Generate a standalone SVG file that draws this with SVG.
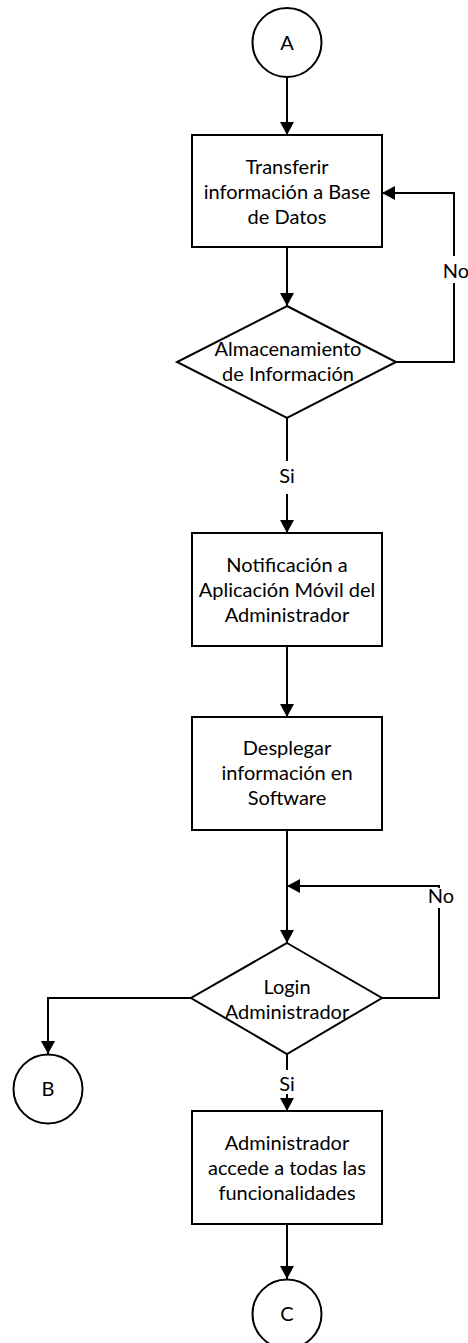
<svg xmlns="http://www.w3.org/2000/svg" width="468" height="1343" viewBox="0 0 468 1343">
  <style>
    .shape { fill: #ffffff; stroke: #000000; stroke-width: 2; }
    .line { fill: none; stroke: #000000; stroke-width: 2; }
    .txt { font-family: Lato, "Liberation Sans", sans-serif; font-size: 20px; fill: #000000; text-anchor: middle; }
    .lblbg { fill: #ffffff; stroke: none; }
  </style>
  <defs>
    <marker id="arrow" markerUnits="userSpaceOnUse" markerWidth="13" markerHeight="14" viewBox="0 0 13 14" refX="13" refY="7" orient="auto">
      <path d="M0,0 L13,7 L0,14 z" fill="#000000"/>
    </marker>
  </defs>
  <rect width="468" height="1343" fill="#ffffff"/>

  <!-- connectors -->
  <g id="connectors">
    <path class="line" d="M287,77 L287,135" marker-end="url(#arrow)"/>
    <path class="line" d="M287,247 L287,306" marker-end="url(#arrow)"/>
    <path class="line" d="M396,362 L454,362 L454,193 L382,193" marker-end="url(#arrow)"/>
    <path class="line" d="M287,418 L287,533" marker-end="url(#arrow)"/>
    <path class="line" d="M287,646 L287,717" marker-end="url(#arrow)"/>
    <path class="line" d="M287,830 L287,943" marker-end="url(#arrow)"/>
    <path class="line" d="M382,998 L439,998 L439,886 L287,886" marker-end="url(#arrow)"/>
    <path class="line" d="M191,998 L48,998 L48,1054" marker-end="url(#arrow)"/>
    <path class="line" d="M287,1054 L287,1111" marker-end="url(#arrow)"/>
    <path class="line" d="M287,1224 L287,1279" marker-end="url(#arrow)"/>
    <!-- branch labels -->
    <rect class="lblbg" x="442" y="256" width="26" height="27"/>
    <text class="txt" x="456" y="278">No</text>
    <rect class="lblbg" x="277" y="461" width="20" height="33"/>
    <text class="txt" x="287" y="483">Si</text>
    <rect class="lblbg" x="427" y="888" width="28" height="20"/>
    <text class="txt" x="441" y="903">No</text>
    <rect class="lblbg" x="277" y="1070" width="20" height="24"/>
    <text class="txt" x="287" y="1091">Si</text>
  </g>

  <g id="start-a">
    <circle class="shape" cx="287" cy="42.5" r="34.5"/>
    <text class="txt" x="287" y="50">A</text>
  </g>

  <g id="transferir">
    <rect class="shape" x="192" y="135" width="190" height="112"/>
    <text class="txt" x="287" y="174">Transferir</text>
    <text class="txt" x="287" y="199">información a Base</text>
    <text class="txt" x="287" y="224">de Datos</text>
  </g>

  <g id="almacenamiento">
    <polygon class="shape" points="287,306 396,362 287,418 177,362"/>
    <text class="txt" x="288" y="356">Almacenamiento</text>
    <text class="txt" x="288" y="381">de Información</text>
  </g>

  <g id="notificacion">
    <rect class="shape" x="192" y="533" width="190" height="113"/>
    <text class="txt" x="287" y="572">Notificación a</text>
    <text class="txt" x="287" y="597">Aplicación Móvil del</text>
    <text class="txt" x="287" y="622">Administrador</text>
  </g>

  <g id="desplegar">
    <rect class="shape" x="192" y="717" width="190" height="113"/>
    <text class="txt" x="287" y="755">Desplegar</text>
    <text class="txt" x="287" y="780">información en</text>
    <text class="txt" x="287" y="805">Software</text>
  </g>

  <g id="login">
    <polygon class="shape" points="287,943 382,998 287,1054 191,998"/>
    <text class="txt" x="287" y="994">Login</text>
    <text class="txt" x="287" y="1019">Administrador</text>
  </g>

  <g id="connector-b">
    <circle class="shape" cx="48" cy="1089" r="34.5"/>
    <text class="txt" x="48" y="1096">B</text>
  </g>

  <g id="acceso">
    <rect class="shape" x="192" y="1111" width="190" height="113"/>
    <text class="txt" x="287" y="1150">Administrador</text>
    <text class="txt" x="287" y="1175">accede a todas las</text>
    <text class="txt" x="287" y="1200">funcionalidades</text>
  </g>

  <g id="end-c">
    <circle class="shape" cx="287" cy="1314" r="34.5"/>
    <text class="txt" x="287" y="1321">C</text>
  </g>
</svg>
